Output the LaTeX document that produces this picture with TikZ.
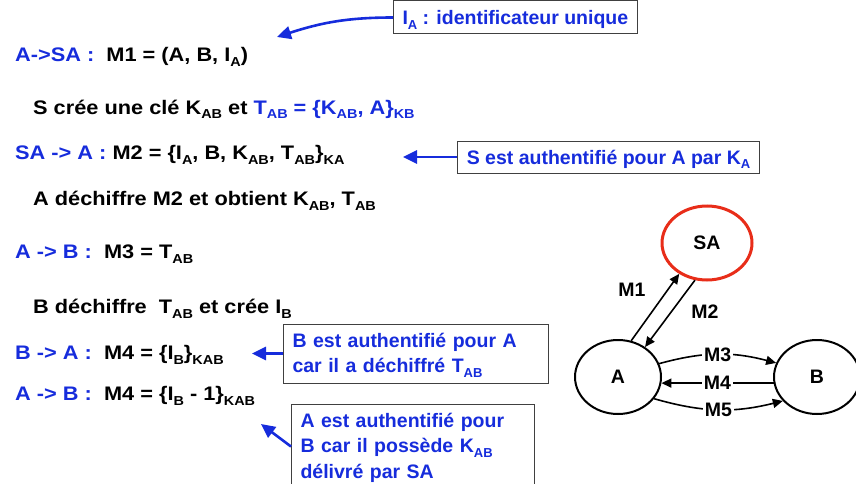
\documentclass[tikz,border=0pt]{standalone}
\usepackage{fontspec}
\setmainfont{Liberation Sans}
\newfontfamily\widefont[FakeStretch=1.11]{Liberation Sans}
\usetikzlibrary{shapes.geometric,arrows.meta}
\definecolor{blu}{RGB}{22,44,220}
\definecolor{sared}{RGB}{232,45,25}
\newcommand{\lowsub}[1]{\raisebox{-5pt}{\fontsize{13}{13}\selectfont #1}}
\newcommand{\bl}{\color{blu}}
\begin{document}
\begin{tikzpicture}[x=1pt,y=1pt,
  txt/.style={anchor=base west, inner sep=0pt, font=\widefont\bfseries\fontsize{19.6}{22}\selectfont},
  note/.style={draw=black!75, line width=1pt, fill=white, text=blu, inner ysep=0pt, inner xsep=9pt, font=\bfseries\fontsize{19.5}{25.5}\selectfont, anchor=base west},
  barrow/.style={draw=blu, line width=2.6pt, -{Triangle[length=14pt,width=13pt]}},
  ent/.style={ellipse, draw, line width=2pt, minimum width=86pt, minimum height=74pt, inner sep=0pt, font=\bfseries\fontsize{19.5}{22}\selectfont},
  garrow/.style={draw, line width=1.6pt, -{Triangle[length=10pt,width=9pt]}},
  glbl/.style={font=\bfseries\fontsize{19.5}{22}\selectfont, fill=white, inner sep=2pt}
]
\useasboundingbox (0,0) rectangle (856,-484);

% protocol lines
\node[txt] (l1) at (15,-62) {{\bl A->SA :}\ \ M1 = (A, B, I\lowsub{A})};
\node[txt] (l2) at (33,-114) {S crée une clé K\lowsub{AB} et {\bl T\lowsub{AB} = \{K\lowsub{AB}, A\}\lowsub{KB}}};
\node[txt] (l3) at (15,-159) {{\bl SA -> A :} M2 = \{I\lowsub{A}, B, K\lowsub{AB}, T\lowsub{AB}\}\lowsub{KA}};
\node[txt] (l4) at (33,-205) {A déchiffre M2 et obtient K\lowsub{AB}, T\lowsub{AB}};
\node[txt] (l5) at (15,-258) {{\bl A -> B :}\ \ M3 = T\lowsub{AB}};
\node[txt] (l6) at (33,-313) {B déchiffre\ \ T\lowsub{AB} et crée I\lowsub{B}};
\node[txt] (l7) at (15,-359) {{\bl B -> A :}\ \ M4 = \{I\lowsub{B}\}\lowsub{KAB}};
\node[txt] (l8) at (15,-400) {{\bl A -> B :}\ \ M4 = \{I\lowsub{B} - 1\}\lowsub{KAB}};

% annotation boxes
\node[note, text height=24pt, text depth=9pt, minimum width=241pt] (n1) at (393,-25) {I\lowsub{A} : identificateur unique};
\node[note, text height=23pt, text depth=9pt, minimum width=302pt] (n2) at (457,-164) {S est authentifié pour A par K\lowsub{A}};
\node[note, align=left, text height=23pt, text depth=36pt, minimum width=265pt, text width=247pt] (nB) at (283,-347) {B est authentifié pour A\\car il a déchiffré T\lowsub{AB}};
\node[note, align=left, text height=23pt, text depth=62pt, minimum width=243pt, text width=225pt] (nA) at (291,-427) {A est authentifié pour\\B car il possède K\lowsub{AB}\\délivré par SA};

\coordinate (t1) at (277,-37);
\coordinate (t2) at (403,-157);
\coordinate (tB) at (252,-353.5);
\coordinate (tA) at (261,-424);
\draw[barrow] (n1.west) to[out=180,in=18] (t1);
\draw[barrow] (n2.west) -- (t2);
\draw[barrow] (nB.west) -- (tB);
\draw[barrow] (nA.west) -- (tA);

% graph
\node[ent, draw=sared, line width=3pt, minimum width=90pt] (SA) at (707,-243) {SA};
\node[ent] (A) at (618,-377) {A};
\node[ent] (B) at (817,-377) {B};
\draw[garrow] (A.70) -- (SA.228);
\draw[garrow] (SA.252) -- (A.48);
\node[glbl] (m1) at (632,-290) {M1};
\node[glbl] (m2) at (705,-312) {M2};
\draw[garrow] (A.18) to[bend left=15] node[glbl] (m3) {M3} (B.161);
\draw[garrow] (B.188) -- node[glbl] (m4) {M4} (A.-8);
\draw[garrow] (A.-31) to[bend right=15] node[glbl] (m5) {M5} (B.215);
\end{tikzpicture}
\end{document}
